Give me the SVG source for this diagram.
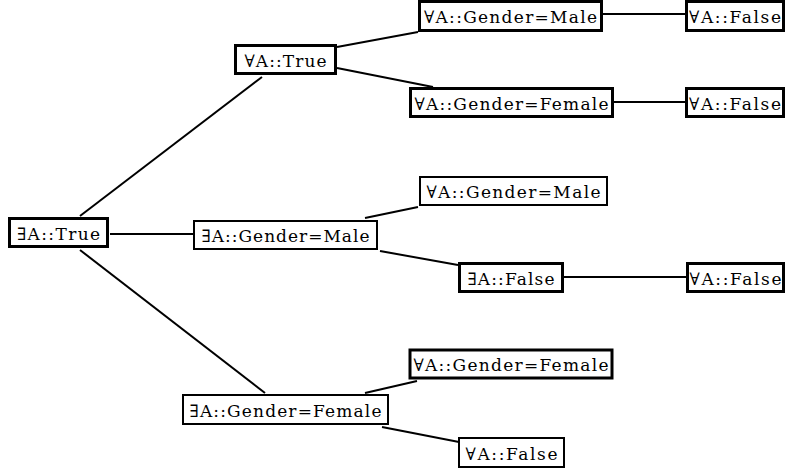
<svg xmlns="http://www.w3.org/2000/svg" width="786" height="473" viewBox="0 0 786 473">
<style>
.b{fill:#fff;stroke:#000}
.k{stroke-width:3}
.n{stroke-width:2}
text{font-family:"DejaVu Serif","Liberation Serif",serif;font-size:17px;fill:#000;text-anchor:middle}
#edges line{stroke:#000;stroke-width:2}
</style>
<rect width="786" height="473" fill="#fff"/>
<g id="edges">
<line x1="80" y1="216" x2="262" y2="77"/>
<line x1="110" y1="234" x2="193" y2="234"/>
<line x1="80" y1="250" x2="265" y2="393"/>
<line x1="337" y1="47" x2="418" y2="32"/>
<line x1="337" y1="68" x2="433" y2="87"/>
<line x1="603" y1="14" x2="685" y2="14"/>
<line x1="614" y1="102" x2="685" y2="102"/>
<line x1="365" y1="218" x2="418" y2="207"/>
<line x1="380" y1="251" x2="458" y2="265"/>
<line x1="564" y1="277" x2="687" y2="277"/>
<line x1="365" y1="393" x2="417" y2="381"/>
<line x1="382" y1="427" x2="459" y2="442"/>
</g>
<g id="eTrue"><rect class="b k" x="9.5" y="218.5" width="98" height="28"/><text x="58.5" y="240" textLength="83">∃A::True</text></g>
<g id="aTrue"><rect class="b k" x="235.5" y="45.5" width="100" height="28"/><text x="285.5" y="67" textLength="82">∀A::True</text></g>
<g id="aMale1"><rect class="b k" x="419.5" y="1.5" width="182" height="29"/><text x="510.5" y="23" textLength="173">∀A::Gender=Male</text></g>
<g id="aFalse1"><rect class="b k" x="686.5" y="1.5" width="97" height="29"/><text x="735" y="23" textLength="92">∀A::False</text></g>
<g id="aFemale1"><rect class="b k" x="410.5" y="88.5" width="202" height="28"/><text x="511.5" y="110" textLength="194">∀A::Gender=Female</text></g>
<g id="aFalse2"><rect class="b k" x="686.5" y="88.5" width="97" height="28"/><text x="735" y="110" textLength="92">∀A::False</text></g>
<g id="eMale"><rect class="b n" x="194" y="221" width="183" height="28"/><text x="285.5" y="242" textLength="168">∃A::Gender=Male</text></g>
<g id="aMale2"><rect class="b n" x="420" y="177" width="187" height="28"/><text x="513.5" y="198" textLength="174">∀A::Gender=Male</text></g>
<g id="eFalse"><rect class="b k" x="459.5" y="263.5" width="103" height="28"/><text x="511" y="285" textLength="87">∃A::False</text></g>
<g id="aFalse3"><rect class="b k" x="687.5" y="263.5" width="96" height="28"/><text x="735.5" y="285" textLength="92">∀A::False</text></g>
<g id="eFemale"><rect class="b n" x="183" y="395" width="205" height="29"/><text x="285.5" y="417" textLength="192">∃A::Gender=Female</text></g>
<g id="aFemale2"><rect class="b k" x="410" y="350" width="202" height="28"/><text x="511" y="371" textLength="195">∀A::Gender=Female</text></g>
<g id="aFalse4"><rect class="b n" x="459" y="438" width="105" height="29"/><text x="511.5" y="460" textLength="92">∀A::False</text></g>
</svg>
